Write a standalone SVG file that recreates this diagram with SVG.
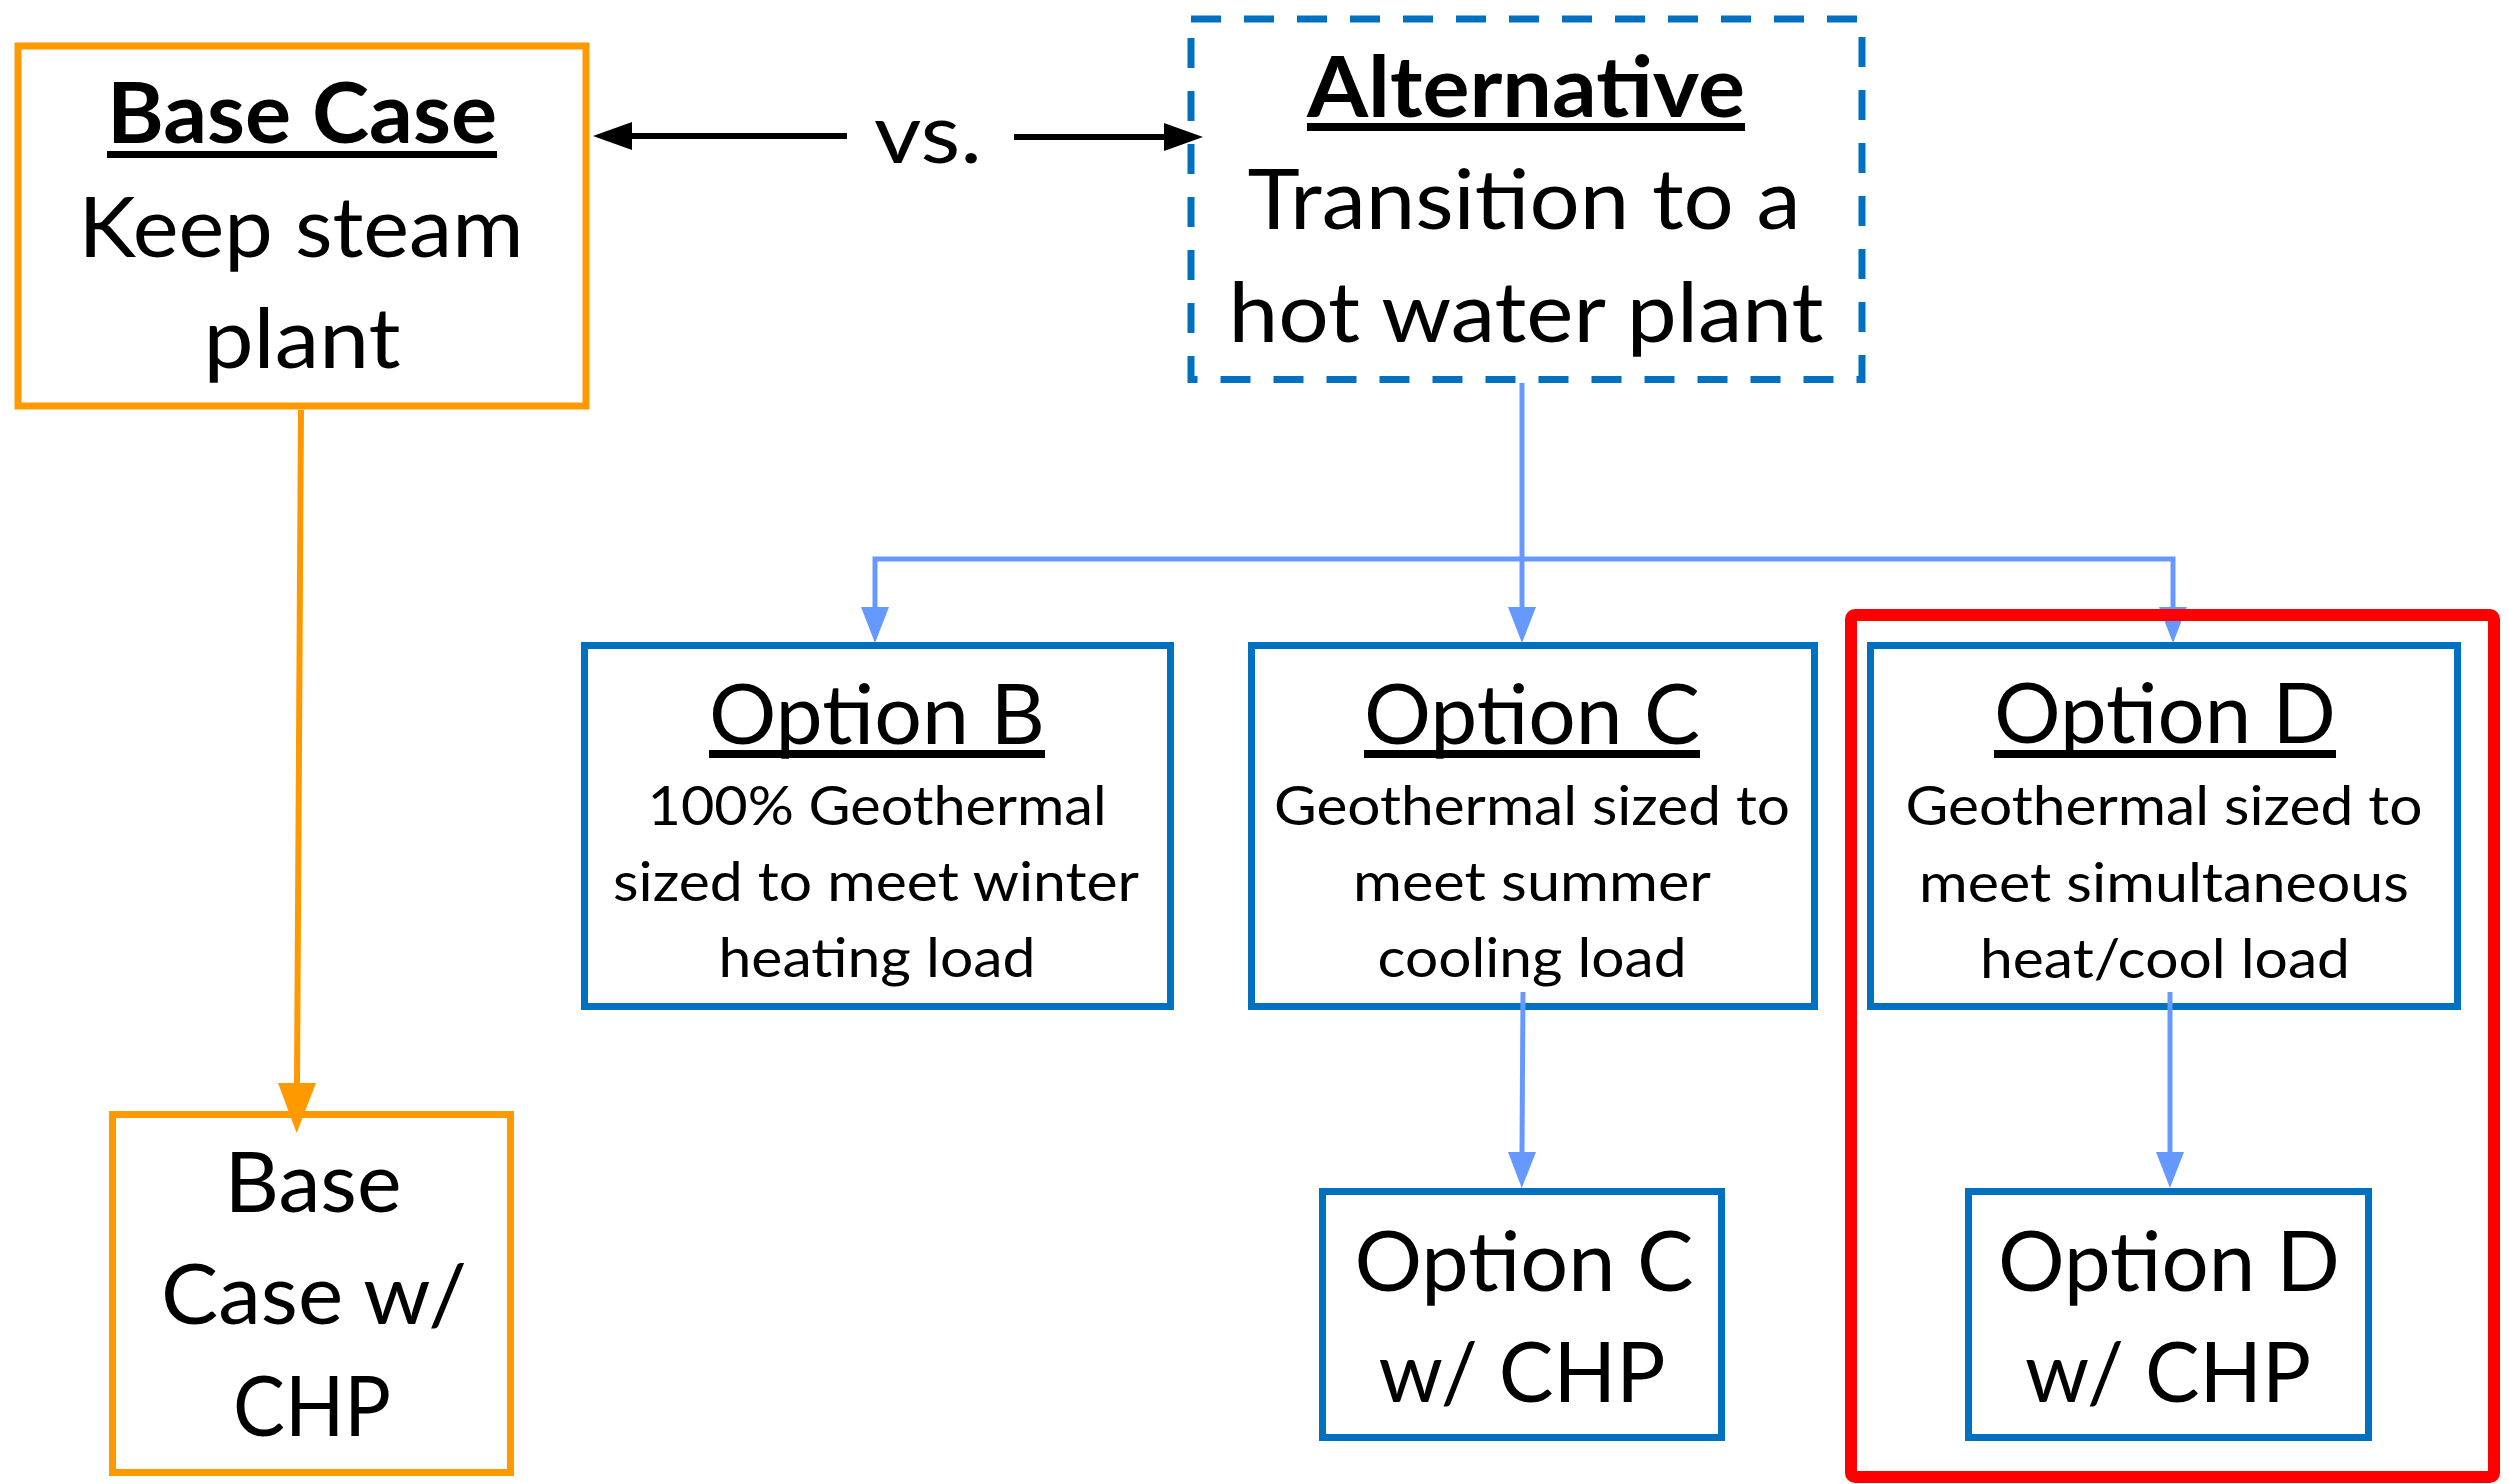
<svg xmlns="http://www.w3.org/2000/svg" width="2509" height="1484" viewBox="0 0 2509 1484">
<style>
.t{font-family:Lato,"Open Sans","Liberation Sans",sans-serif;fill:#000;text-anchor:middle}
.big{font-size:84px}
.sub{font-size:55px}
.b{font-weight:bold}
.ob{fill:#fff;stroke:#FF9900;stroke-width:7}
.bb{fill:#fff;stroke:#0070C0;stroke-width:7}
.ul{fill:#000}
.cb{fill:none;stroke:#6699FF;stroke-width:5}
</style>
<defs>
<marker id="ab" markerUnits="userSpaceOnUse" markerWidth="36" markerHeight="28" refX="0" refY="14" orient="auto" overflow="visible"><path d="M0,0 L36,14 L0,28 z" fill="#6699FF"/></marker>
<marker id="ao" markerUnits="userSpaceOnUse" markerWidth="50" markerHeight="38" refX="0" refY="19" orient="auto" overflow="visible"><path d="M0,0 L50,19 L0,38 z" fill="#FF9900"/></marker>
<marker id="ak" markerUnits="userSpaceOnUse" markerWidth="39" markerHeight="28" refX="0" refY="14" orient="auto" overflow="visible"><path d="M0,0 L39,14 L0,28 z" fill="#000"/></marker>
</defs>
<rect x="0" y="0" width="2509" height="1484" fill="#fff"/>

<g id="base-case">
<rect class="ob" x="18" y="46" width="568" height="360"/>
<text class="t big b" x="302" y="143" textLength="390" lengthAdjust="spacingAndGlyphs">Base Case</text>
<rect class="ul" x="107" y="151" width="390" height="7"/>
<text class="t big" x="301" y="257" textLength="445" lengthAdjust="spacingAndGlyphs">Keep steam</text>
<text class="t big" x="302" y="368" textLength="197" lengthAdjust="spacingAndGlyphs">plant</text>
</g>

<g id="vs-label">
<text class="t big" x="928" y="163" textLength="108" lengthAdjust="spacingAndGlyphs">vs.</text>
</g>

<g id="alternative">
<rect x="1191" y="19" width="671" height="360.5" fill="#fff" stroke="#0070C0" stroke-width="7" stroke-dasharray="30 23"/>
<text class="t big b" x="1526" y="117" textLength="438" lengthAdjust="spacingAndGlyphs">Alternative</text>
<rect class="ul" x="1307" y="123" width="438" height="8"/>
<text class="t big" x="1524" y="229" textLength="553" lengthAdjust="spacingAndGlyphs">Transition to a</text>
<text class="t big" x="1526" y="342" textLength="595" lengthAdjust="spacingAndGlyphs">hot water plant</text>
</g>

<g id="option-b">
<rect class="bb" x="584.5" y="645.5" width="586" height="361"/>
<text class="t big" x="877" y="744" textLength="336" lengthAdjust="spacingAndGlyphs">Option B</text>
<rect class="ul" x="709" y="750" width="336" height="8"/>
<text class="t sub" x="877" y="825" textLength="459" lengthAdjust="spacingAndGlyphs">100% Geothermal</text>
<text class="t sub" x="876" y="901" textLength="526" lengthAdjust="spacingAndGlyphs">sized to meet winter</text>
<text class="t sub" x="877" y="977" textLength="317" lengthAdjust="spacingAndGlyphs">heating load</text>
</g>

<g id="option-c">
<rect class="bb" x="1251.5" y="645.5" width="563" height="361"/>
<text class="t big" x="1532" y="744" textLength="336" lengthAdjust="spacingAndGlyphs">Option C</text>
<rect class="ul" x="1364" y="750" width="336" height="8"/>
<text class="t sub" x="1532" y="825" textLength="516" lengthAdjust="spacingAndGlyphs">Geothermal sized to</text>
<text class="t sub" x="1532" y="901" textLength="358" lengthAdjust="spacingAndGlyphs">meet summer</text>
<text class="t sub" x="1532" y="977" textLength="309" lengthAdjust="spacingAndGlyphs">cooling load</text>
</g>

<g id="option-d">
<rect class="bb" x="1870.5" y="645.5" width="587" height="361"/>
<text class="t big" x="2165" y="743" textLength="342" lengthAdjust="spacingAndGlyphs">Option D</text>
<rect class="ul" x="1994" y="750" width="342" height="8"/>
<text class="t sub" x="2164" y="825" textLength="517" lengthAdjust="spacingAndGlyphs">Geothermal sized to</text>
<text class="t sub" x="2164" y="902" textLength="490" lengthAdjust="spacingAndGlyphs">meet simultaneous</text>
<text class="t sub" x="2165" y="978" textLength="370" lengthAdjust="spacingAndGlyphs">heat/cool load</text>
</g>

<g id="base-case-chp">
<rect class="ob" x="112.5" y="1114.5" width="398" height="358"/>
<text class="t big" x="313" y="1212" textLength="177" lengthAdjust="spacingAndGlyphs">Base</text>
<text class="t big" x="314" y="1324" textLength="306" lengthAdjust="spacingAndGlyphs">Case w/</text>
<text class="t big" x="312" y="1436" textLength="158" lengthAdjust="spacingAndGlyphs">CHP</text>
</g>

<g id="option-c-chp">
<rect class="bb" x="1322.5" y="1191.5" width="399" height="246"/>
<text class="t big" x="1524" y="1291" textLength="339" lengthAdjust="spacingAndGlyphs">Option C</text>
<text class="t big" x="1522" y="1402" textLength="287" lengthAdjust="spacingAndGlyphs">w/ CHP</text>
</g>

<g id="option-d-chp">
<rect class="bb" x="1968.5" y="1191.5" width="400" height="246"/>
<text class="t big" x="2169" y="1291" textLength="342" lengthAdjust="spacingAndGlyphs">Option D</text>
<text class="t big" x="2168" y="1402" textLength="286" lengthAdjust="spacingAndGlyphs">w/ CHP</text>
</g>

<g id="connectors">
<path d="M847,136 L632,136" fill="none" stroke="#000" stroke-width="6" marker-end="url(#ak)"/>
<path d="M1014,137 L1164,137" fill="none" stroke="#000" stroke-width="6" marker-end="url(#ak)"/>
<path d="M301,410 L297,1083" fill="none" stroke="#FF9900" stroke-width="6" marker-end="url(#ao)"/>
<path class="cb" d="M1522,383 L1522,607" marker-end="url(#ab)"/>
<path class="cb" d="M1522,559 L875,559 L875,607" marker-end="url(#ab)"/>
<path class="cb" d="M1522,559 L2173,559 L2173,607" marker-end="url(#ab)"/>
<path class="cb" d="M1523,992 L1522,1152" marker-end="url(#ab)"/>
<path class="cb" d="M2170,992 L2170,1152" marker-end="url(#ab)"/>
</g>

<g id="highlight-d">
<rect x="1851" y="615" width="643" height="862" rx="4" fill="none" stroke="#FF0000" stroke-width="12"/>
</g>
</svg>
